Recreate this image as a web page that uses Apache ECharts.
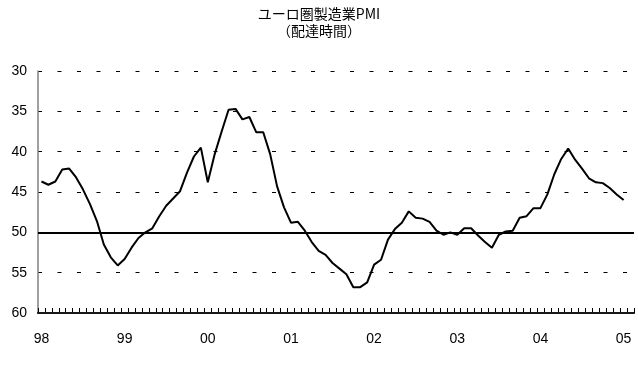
<!DOCTYPE html>
<html>
<head>
<meta charset="utf-8">
<script src="https://cdn.jsdelivr.net/npm/echarts@6/dist/echarts.min.js"></script>
<style>
  html, body { margin: 0; padding: 0; background: #fff; }
  #chart { width: 638px; height: 365px; }
</style>
</head>
<body>
<div id="chart"></div>
<script>
// year tick labels (one per January)
const yearLabels = ['98', '99', '00', '01', '02', '03', '04', '05'];
const years = [1998, 1999, 2000, 2001, 2002, 2003, 2004, 2005];

// monthly PMI delivery times, Jan 1998 - Jan 2005
const pmi1998 = [43.7, 44.1, 43.7, 42.2, 42.1, 43.2, 44.7, 46.5, 48.6, 51.5, 53.1, 54.1];
const pmi1999 = [53.3, 51.9, 50.7, 50.0, 49.5, 48.0, 46.7, 45.8, 44.9, 42.6, 40.6, 39.5];
const pmi2000 = [43.8, 40.3, 37.5, 34.8, 34.7, 36.0, 35.7, 37.6, 37.6, 40.3, 44.3, 46.9];
const pmi2001 = [48.8, 48.7, 49.8, 51.2, 52.3, 52.8, 53.8, 54.5, 55.2, 56.8, 56.8, 56.2];
const pmi2002 = [54.0, 53.4, 50.9, 49.6, 48.8, 47.4, 48.2, 48.3, 48.7, 49.8, 50.3, 50.0];
const pmi2003 = [50.3, 49.5, 49.5, 50.4, 51.2, 51.9, 50.3, 49.9, 49.8, 48.2, 48.0, 47.0];
const pmi2004 = [47.0, 45.3, 42.8, 40.9, 39.6, 41.0, 42.1, 43.3, 43.8, 43.9, 44.5, 45.3];
const pmi2005 = [46.0];

const values = [].concat(pmi1998, pmi1999, pmi2000, pmi2001, pmi2002, pmi2003, pmi2004, pmi2005);

// categories Jan 1998 .. Feb 2005 (last month left empty)
const categories = [];
years.forEach((y) => {
  for (let m = 1; m <= 12; m++) {
    if (y === 2005 && m > 2) break;
    categories.push(y + '-' + String(m).padStart(2, '0'));
  }
});

const chart = echarts.init(document.getElementById('chart'));

const option = {
  animation: false,
  title: {
    text: 'ユーロ圏製造業PMI\n（配達時間）',
    left: 'center',
    top: 0,
    textStyle: {
      fontFamily: "'Noto Sans CJK JP', sans-serif",
      fontSize: 14,
      fontWeight: 'normal',
      color: '#000',
      lineHeight: 17,
    },
  },
  grid: { left: 38, right: 4, top: 71, bottom: 52 },
  xAxis: {
    type: 'category',
    data: categories,
    axisLine: { show: true, onZero: false, lineStyle: { color: '#000', width: 2 } },
    axisTick: { show: true, inside: true, interval: 0, length: 5, lineStyle: { color: '#000', width: 1 } },
    axisLabel: {
      interval: 11,
      margin: 19,
      color: '#000',
      fontSize: 14,
      fontFamily: "'Liberation Sans', Arial, sans-serif",
      formatter: (v) => yearLabels[years.indexOf(Number(v.slice(0, 4)))],
    },
  },
  yAxis: {
    type: 'value',
    inverse: true,
    min: 30,
    max: 60,
    interval: 5,
    axisLine: { show: true, onZero: false, lineStyle: { color: '#808080', width: 1.5 } },
    axisTick: { show: false },
    axisLabel: {
      margin: 11,
      color: '#000',
      fontSize: 14,
      fontFamily: "'Liberation Sans', Arial, sans-serif",
    },
    splitLine: { lineStyle: { color: '#000', type: [4, 15.5], width: 1 } },
  },
  series: [{
    type: 'line',
    data: values,
    symbol: 'none',
    lineStyle: { color: '#000', width: 2 },
    markLine: {
      silent: true,
      symbol: 'none',
      label: { show: false },
      lineStyle: { color: '#000', type: 'solid', width: 2 },
      data: [
        { yAxis: 50 },
        { yAxis: 60, lineStyle: { color: '#222', type: 'solid', width: 1.5 } },
      ],
    },
  }],
};

chart.setOption(option);
</script>
</body>
</html>
